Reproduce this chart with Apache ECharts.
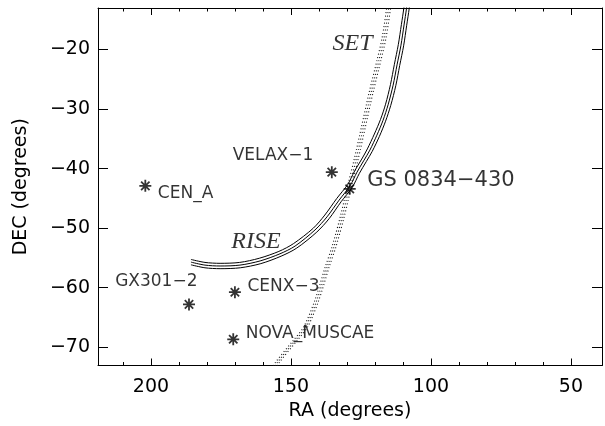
<!DOCTYPE html>
<html>
<head>
<meta charset="utf-8">
<script src="https://cdn.jsdelivr.net/npm/echarts@6/dist/echarts.min.js"></script>
<style>
html, body { margin: 0; background: #fff; }
#chart { width: 605px; height: 426px; }
</style>
</head>
<body>
<div id="chart"></div>
<script>
// sources (RA, DEC in degrees)
const sourceNames = ['CEN_A', 'VELAX\u22121', 'GS 0834\u2212430', 'GX301\u22122', 'CENX\u22123', 'NOVA_MUSCAE'];
const sourceRA = [202.0, 135.4, 129.0, 186.4, 170.0, 170.6];
const sourceDEC = [-42.9, -40.6, -43.4, -62.8, -60.75, -68.65];

// rise track, three close lines
const riseInner = [[185.7,-55.25],[180.7,-55.75],[175.3,-55.9],[168.3,-55.75],[161.3,-55.05],[154.3,-53.9],[149.1,-52.6],[142.0,-50.0],[137.9,-47.8],[133.6,-45.0],[129.7,-42.65],[127.25,-40.4],[124.7,-38.4],[122.7,-36.7],[120.2,-34.2],[118.0,-31.75],[116.2,-29.2],[114.45,-25.9],[113.05,-22.5],[111.65,-19.2],[110.55,-15.85],[109.65,-13.0],[109.35,-11.65]];
const riseMid = [[185.7,-55.7],[180.7,-56.2],[175.3,-56.35],[168.2,-56.2],[161.0,-55.5],[153.9,-54.3],[148.5,-53.0],[141.4,-50.3],[137.1,-48.1],[132.8,-45.3],[128.9,-42.9],[126.4,-40.6],[123.9,-38.6],[121.8,-36.9],[119.3,-34.4],[117.1,-31.9],[115.3,-29.3],[113.5,-26.0],[112.1,-22.6],[110.7,-19.3],[109.6,-15.9],[108.7,-13.05],[108.4,-11.7]];
const riseOuter = [[185.7,-56.15],[180.7,-56.65],[175.3,-56.8],[168.1,-56.65],[160.75,-55.95],[153.5,-54.7],[147.95,-53.35],[140.75,-50.65],[136.35,-48.4],[132.05,-45.55],[128.1,-43.15],[125.55,-40.8],[123.05,-38.8],[120.95,-37.1],[118.4,-34.6],[116.2,-32.05],[114.35,-29.4],[112.55,-26.1],[111.15,-22.7],[109.75,-19.4],[108.65,-15.95],[107.75,-13.1],[107.45,-11.75]];

// set track, three dotted lines
const setLeft = [[115.6,-12.0],[115.8,-13.05],[117.45,-18.1],[119.25,-21.8],[122.1,-27.3],[124.8,-33.0],[127.45,-38.55],[129.5,-42.4],[132.35,-48.05],[135.3,-53.1],[137.7,-56.45],[141.4,-62.05],[145.4,-66.55],[149.0,-68.75],[155.8,-72.7],[156.7,-73.8]];
const setMid = [[114.9,-12.0],[115.1,-13.05],[116.75,-18.1],[118.55,-21.8],[121.4,-27.3],[124.1,-33.0],[126.75,-38.55],[128.8,-42.4],[131.65,-48.05],[134.6,-53.1],[137.0,-56.45],[140.7,-62.05],[144.7,-66.55],[148.3,-68.75],[155.1,-72.7],[156.0,-73.8]];
const setRight = [[114.2,-12.0],[114.4,-13.05],[116.05,-18.1],[117.85,-21.8],[120.7,-27.3],[123.4,-33.0],[126.05,-38.55],[128.1,-42.4],[130.95,-48.05],[133.9,-53.1],[136.3,-56.45],[140.0,-62.05],[144.0,-66.55],[147.6,-68.75],[154.4,-72.7],[155.3,-73.8]];

// track labels
const trackNames = ['SET', 'RISE'];
const trackRA = [128.0, 162.5];
const trackDEC = [-19.0, -52.3];

// axes
const raMajor = [200, 150, 100, 50];
const raMinor = [210, 190, 180, 170, 160, 140, 130, 120, 110, 90, 80, 70, 60];
const decMajor = [-70, -60, -50, -40, -30, -20];

const FONT = 'DejaVu Sans';
const minus = v => String(v).replace('-', '\u2212');

// label placement per source (style only)
const labelPlace = {
  'CEN_A': { position: 'right', offset: [4, 8] },
  'VELAX\u22121': { position: 'left', offset: [-10, -17] },
  'GS 0834\u2212430': { position: 'right', offset: [9, -8], fontSize: 21 },
  'GX301\u22122': { position: 'left', offset: [17, -23] },
  'CENX\u22123': { position: 'right', offset: [4, -6] },
  'NOVA_MUSCAE': { position: 'right', offset: [4, -6] },
};

const sourceData = sourceNames.map((n, i) => ({
  name: n,
  value: [sourceRA[i], sourceDEC[i]],
  label: Object.assign({ show: true, formatter: n, distance: 0 }, labelPlace[n]),
}));

const trackData = trackNames.map((n, i) => ({ name: n, value: [trackRA[i], trackDEC[i]] }));

const axisLine = { show: true, lineStyle: { color: '#000', width: 1 } };
const xCommon = { type: 'value', min: 38.9, max: 218.9, inverse: true, splitLine: { show: false } };

const chart = echarts.init(document.getElementById('chart'), null, { renderer: 'canvas' });

const solid = (data) => ({
  type: 'line', data, smooth: 0.3, symbol: 'none', silent: true,
  lineStyle: { color: '#000', width: 1 }, z: 3,
});
const dotted = (data) => ({
  type: 'line', data, smooth: 0.3, symbol: 'none', silent: true,
  lineStyle: { color: '#111', width: 1.1, type: [1, 2.5] }, z: 2,
});

chart.setOption({
  animation: false,
  backgroundColor: '#fff',
  grid: { left: 98, top: 8, right: 3, bottom: 60.5 },
  xAxis: [
    Object.assign({}, xCommon, {
      position: 'bottom',
      name: 'RA (degrees)', nameLocation: 'middle', nameGap: 31,
      nameTextStyle: { fontFamily: FONT, fontSize: 19, color: '#000' },
      axisLine,
      axisTick: { inside: true, length: 7, customValues: raMajor, lineStyle: { color: '#000' } },
      axisLabel: { customValues: raMajor, margin: 12, fontFamily: FONT, fontSize: 19, color: '#000', formatter: minus },
    }),
    Object.assign({}, xCommon, {
      position: 'bottom',
      axisLine: { show: false },
      axisTick: { inside: true, length: 3.5, customValues: raMinor, lineStyle: { color: '#000' } },
      axisLabel: { show: false },
    }),
    Object.assign({}, xCommon, {
      position: 'top',
      axisLine,
      axisTick: { inside: true, length: 7, customValues: raMajor, lineStyle: { color: '#000' } },
      axisLabel: { show: false },
    }),
    Object.assign({}, xCommon, {
      position: 'top',
      axisLine: { show: false },
      axisTick: { inside: true, length: 3.5, customValues: raMinor, lineStyle: { color: '#000' } },
      axisLabel: { show: false },
    }),
  ],
  yAxis: [
    {
      type: 'value', min: -73.05, max: -13.05, position: 'left',
      splitLine: { show: false },
      name: 'DEC (degrees)', nameLocation: 'middle', nameGap: 67,
      nameTextStyle: { fontFamily: FONT, fontSize: 19, color: '#000' },
      axisLine,
      axisTick: { inside: true, length: 10, customValues: decMajor, lineStyle: { color: '#000' } },
      axisLabel: { customValues: decMajor, margin: 8, fontFamily: FONT, fontSize: 19, color: '#000', formatter: minus },
    },
    {
      type: 'value', min: -73.05, max: -13.05, position: 'right',
      splitLine: { show: false },
      axisLine,
      axisTick: { inside: true, length: 10, customValues: decMajor, lineStyle: { color: '#000' } },
      axisLabel: { show: false },
    },
  ],
  series: [
    dotted(setLeft), dotted(setMid), dotted(setRight),
    solid(riseInner), solid(riseMid), solid(riseOuter),
    {
      type: 'scatter',
      data: sourceData,
      symbol: 'path://M5 0L5 10M0 5L10 5M1.5 1.5L8.5 8.5M1.5 8.5L8.5 1.5',
      symbolSize: 12,
      silent: true,
      itemStyle: { color: 'none', borderColor: '#000', borderWidth: 1.8 },
      label: { fontFamily: FONT, fontSize: 17, color: '#000' },
      z: 5,
    },
    {
      type: 'scatter',
      data: trackData,
      symbolSize: 0,
      silent: true,
      label: {
        show: true, position: 'inside', formatter: '{b}',
        fontFamily: 'Liberation Serif', fontStyle: 'italic', fontSize: 24, color: '#000',
      },
      z: 6,
    },
  ],
});
</script>
</body>
</html>
